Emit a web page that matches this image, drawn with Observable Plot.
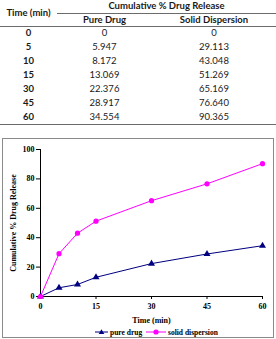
<!DOCTYPE html>
<html><head><meta charset="utf-8">
<script src="https://cdn.jsdelivr.net/npm/d3@7"></script>
<script src="https://cdn.jsdelivr.net/npm/@observablehq/plot@0.6"></script>
<style>
html,body{margin:0;padding:0;background:#fff;}
body{width:276px;height:339px;position:relative;overflow:hidden;}
.cell{position:absolute;text-align:center;font-family:Lato,"Open Sans",sans-serif;font-size:9.5px;color:#1a1a1a;height:14px;line-height:14px;white-space:nowrap;}
.b{font-weight:bold;}
.hline{position:absolute;height:0;border-top:1px solid #6b6b6b;}
#box{position:absolute;left:2px;top:138px;width:270px;height:198px;border:1px solid #8a8a8a;}
#plot{position:absolute;left:0;top:0;}
.leg{position:absolute;top:187px;height:12px;display:flex;align-items:center;font-family:"Liberation Serif","Times New Roman",serif;font-size:7.5px;font-weight:bold;color:#000;white-space:nowrap;}
.leg svg{margin-right:2px;}
</style></head><body>
<div id="table"></div>
<div id="box"><div id="plot"></div>
<div class="leg" style="left:92px"><svg width="13" height="8"><line x1="0" y1="4" x2="13" y2="4" stroke="#000080" stroke-width="1"/><path d="M6.5,1.3L9.3,6L3.7,6Z" fill="#000080"/></svg>pure drug</div>
<div class="leg" style="left:143px"><svg width="20" height="8"><line x1="0" y1="4" x2="20" y2="4" stroke="#ff00ff" stroke-width="1"/><circle cx="10" cy="4" r="2.6" fill="#ff00ff"/></svg>solid dispersion</div>
</div>
<script>
const times = [0, 5, 10, 15, 30, 45, 60];
const pureDrug = [0, 5.947, 8.172, 13.069, 22.376, 28.917, 34.554];
const solidDispersion = [0, 29.113, 43.048, 51.269, 65.169, 76.640, 90.365];
const xTicks = [0, 15, 30, 45, 60];
const yTicks = [0, 20, 40, 60, 80, 100];
const tableTitle = "Cumulative % Drug Release";
const colHeads = ["Time (min)", "Pure Drug", "Solid Dispersion"];
const seriesNames = ["pure drug", "solid dispersion"];

// ---- table ----
const tbl = document.getElementById("table");
const cols = [[0, 57], [57, 152], [152, 276]];
function cell(text, col, top, bold, h) {
  const d = document.createElement("div");
  d.className = "cell" + (bold ? " b" : "");
  d.style.left = col[0] + "px";
  d.style.width = (col[1] - col[0]) + "px";
  d.style.top = top + "px";
  if (h) { d.style.height = h + "px"; d.style.lineHeight = h + "px"; }
  d.textContent = text;
  tbl.appendChild(d);
}
function hline(x0, x1, y) {
  const d = document.createElement("div");
  d.className = "hline";
  d.style.left = x0 + "px"; d.style.width = (x1 - x0) + "px"; d.style.top = y + "px";
  tbl.appendChild(d);
}
cell(colHeads[0], cols[0], 0, true, 26);
cell(tableTitle, [57, 276], -1, true, 14);
cell(colHeads[1], cols[1], 12.5, true, 14);
cell(colHeads[2], cols[2], 12.5, true, 14);
hline(57, 276, 12.5);
hline(0, 276, 25.5);
const fmt = v => v === 0 ? "0" : v.toFixed(3);
times.forEach((t, i) => {
  const top = 26 + i * 14 - 0.5;
  cell(String(t), cols[0], top, true);
  cell(fmt(pureDrug[i]), cols[1], top, false);
  cell(fmt(solidDispersion[i]), cols[2], top, false);
});
hline(0, 276, 123.5);

// ---- chart ----
const pureData = times.map((t, i) => ({time: t, value: pureDrug[i], series: seriesNames[0]}));
const solidData = times.map((t, i) => ({time: t, value: solidDispersion[i], series: seriesNames[1]}));
const chart = Plot.plot({
  width: 270, height: 186,
  marginLeft: 37, marginRight: 11, marginTop: 10, marginBottom: 29,
  style: {fontFamily: "'Liberation Serif','Times New Roman',serif", fontSize: "8px", fontWeight: "bold", color: "#000", background: "transparent", overflow: "visible"},
  x: {domain: [0, 60]},
  y: {domain: [0, 100]},
  marks: [
    Plot.axisX({ticks: xTicks, tickSize: 3, tickPadding: 4, label: "Time (min)", labelAnchor: "center", labelArrow: "none", labelOffset: 26.5}),
    Plot.axisY({ticks: yTicks, tickSize: 4, tickPadding: 2, label: "Cumulative % Drug Release", labelAnchor: "center", labelArrow: "none", labelOffset: 30}),
    Plot.ruleY([0], {stroke: "#000"}),
    Plot.ruleX([0], {stroke: "#000"}),
    Plot.line(pureData, {x: "time", y: "value", stroke: "#000080", strokeWidth: 1}),
    Plot.line(solidData, {x: "time", y: "value", stroke: "#ff00ff", strokeWidth: 1}),
    Plot.dot(pureData, {x: "time", y: "value", symbol: "triangle", fill: "#000080", r: 2.6}),
    Plot.dot(solidData, {x: "time", y: "value", fill: "#ff00ff", r: 2.6})
  ]
});
document.getElementById("plot").appendChild(chart);
</script>
</body></html>
